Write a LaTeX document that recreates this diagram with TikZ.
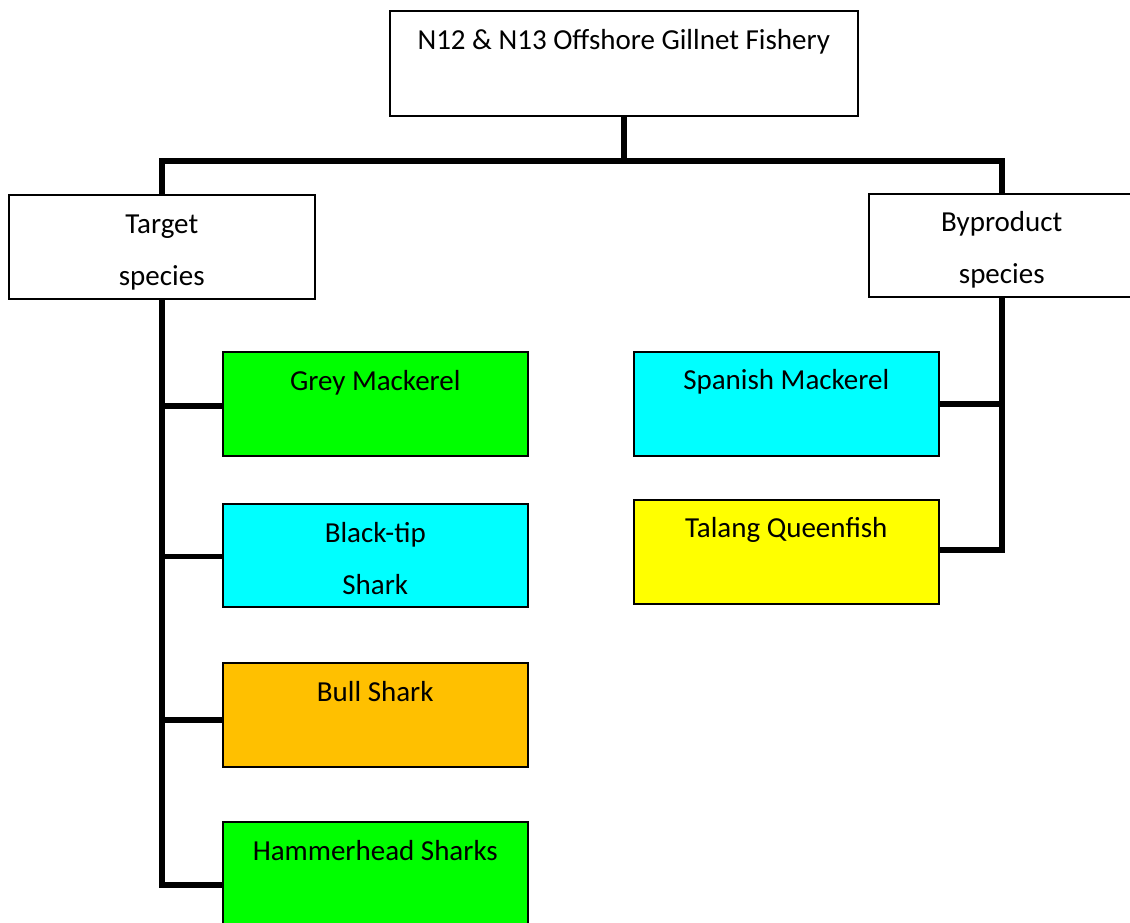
\documentclass[tikz,border=0pt]{standalone}
\usepackage{fontspec}
\setmainfont{Carlito}
\definecolor{cgreen}{HTML}{00FF00}
\definecolor{ccyan}{HTML}{00FFFF}
\definecolor{corange}{HTML}{FFC000}
\definecolor{cyellow}{HTML}{FFFF00}
\begin{document}
\begin{tikzpicture}[x=1pt,y=-1pt,
  box/.style={draw=black, line width=1.5pt, rectangle, anchor=north west, inner sep=0pt},
  lbl/.style={font=\fontsize{29}{35}\selectfont, inner sep=0pt, anchor=base, align=center},
  conn/.style={draw=black, line width=5.5pt}]
\useasboundingbox (0,0) rectangle (1130,922);
% boxes
\node[box, minimum width=468pt, minimum height=105pt] (top) at (389,10) {};
\node[box, minimum width=306pt, minimum height=104pt] (tgt) at (8,194) {};
\node[box, minimum width=266pt, minimum height=103pt] (byp) at (868,193) {};
\node[box, fill=cgreen, minimum width=305pt, minimum height=104pt] (gm) at (222,351) {};
\node[box, fill=ccyan, minimum width=305pt, minimum height=103pt] (bt) at (222,503) {};
\node[box, fill=corange, minimum width=305pt, minimum height=104pt] (bs) at (222,662) {};
\node[box, fill=cgreen, minimum width=305pt, minimum height=126pt] (hh) at (222,821) {};
\node[box, fill=ccyan, minimum width=305pt, minimum height=104pt] (sm) at (633,351) {};
\node[box, fill=cyellow, minimum width=305pt, minimum height=104pt] (tq) at (633,499) {};
% labels
\node[lbl] (topt) at ([yshift=-39pt]top.north) {N12 \& N13 Offshore Gillnet Fishery};
\node[lbl] (tgtt) at ([yshift=-91pt]tgt.north) {Target\\[17pt]species};
\node[lbl] (bypt) at ([yshift=-90pt]byp.north) {Byproduct\\[17pt]species};
\node[lbl] (gmt) at ([yshift=-39pt]gm.north) {Grey Mackerel};
\node[lbl] (btt) at ([yshift=-91pt]bt.north) {Black-tip\\[17pt]Shark};
\node[lbl] (bst) at ([yshift=-39pt]bs.north) {Bull Shark};
\node[lbl] (hht) at ([yshift=-39pt]hh.north) {Hammerhead Sharks};
\node[lbl] (smt) at ([yshift=-38pt]sm.north) {Spanish Mackerel};
\node[lbl] (tqt) at ([yshift=-38pt]tq.north) {Talang Queenfish};
% connection points
\coordinate (bus) at (0,161);
\coordinate (gmc) at ([yshift=-2pt]gm.west);
\coordinate (btc) at ([yshift=-1pt]bt.west);
\coordinate (bsc) at ([yshift=-5pt]bs.west);
\coordinate (tqc) at ([yshift=2pt]tq.east);
% connectors
\draw[conn] (top.south) -- (top.south |- bus);
\draw[conn] (tgt.north) -- (tgt.north |- bus) -- (byp.north |- bus) -- (byp.north);
\draw[conn] (tgt.south) -- (tgt.south |- hh.west) -- (hh.west);
\draw[conn] (tgt.south |- gmc) -- (gmc);
\draw[conn] (tgt.south |- btc) -- (btc);
\draw[conn] (tgt.south |- bsc) -- (bsc);
\draw[conn] (byp.south) -- (byp.south |- tqc) -- (tqc);
\draw[conn] (byp.south |- sm.east) -- (sm.east);
\end{tikzpicture}
\end{document}
